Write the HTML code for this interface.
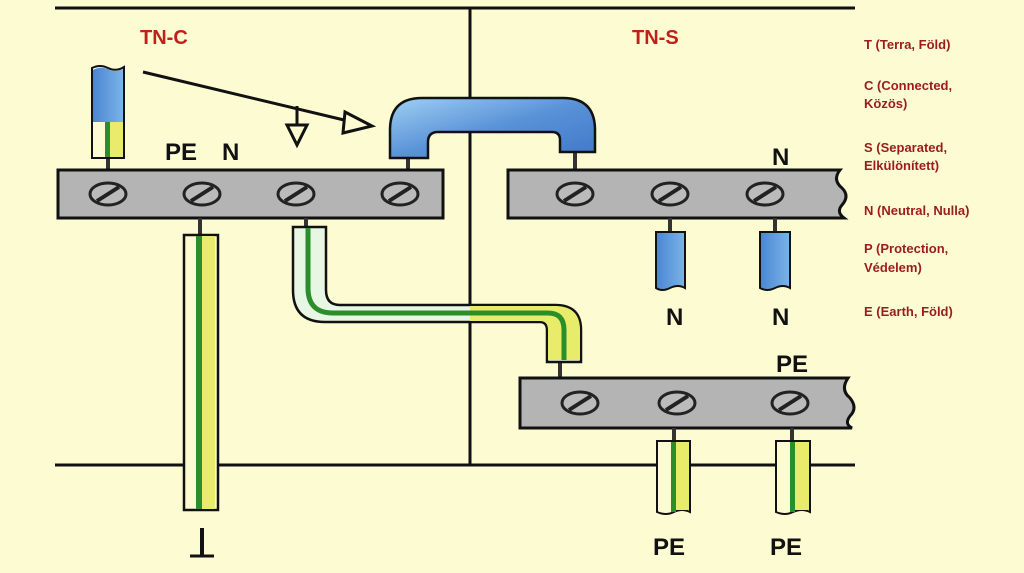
<!DOCTYPE html>
<html><head><style>
body{margin:0;background:#fdfbd2;}
svg{display:block}
.leg{font-family:"Liberation Sans",sans-serif;font-weight:bold;font-size:13px;fill:#9b1c1c}
.lab{font-family:"Liberation Sans",sans-serif;font-size:24px;font-weight:bold;fill:#111}
</style></head><body>
<svg width="1024" height="573" viewBox="0 0 1024 573" xmlns="http://www.w3.org/2000/svg">
<defs>
<linearGradient id="bl" x1="0" y1="0" x2="1" y2="0"><stop offset="0" stop-color="#4a86d0"/><stop offset="1" stop-color="#7ab4ea"/></linearGradient>
<linearGradient id="bv" x1="0" y1="0" x2="1" y2="1"><stop offset="0" stop-color="#9fd0f2"/><stop offset="0.5" stop-color="#5a92d8"/><stop offset="1" stop-color="#3f78c8"/></linearGradient>
<g id="scr"><ellipse cx="0" cy="0" rx="18" ry="11" fill="#bbb" stroke="#222" stroke-width="3"/><line x1="-11" y1="7" x2="11" y2="-7" stroke="#222" stroke-width="4"/></g>
</defs>
<rect width="1024" height="573" fill="#fdfbd2"/>
<g stroke="#111" stroke-width="3" fill="none">
<line x1="55" y1="8" x2="855" y2="8"/>
<line x1="470" y1="8" x2="470" y2="465"/>
<line x1="55" y1="465" x2="855" y2="465"/>
</g>
<text x="140" y="44" font-family="Liberation Sans,sans-serif" font-weight="bold" font-size="20" fill="#c0201a">TN-C</text>
<text x="632" y="44" font-family="Liberation Sans,sans-serif" font-weight="bold" font-size="20" fill="#c0201a">TN-S</text>
<!-- PEN wire -->
<line x1="108" y1="158" x2="108" y2="172" stroke="#333" stroke-width="4"/>
<path d="M92 68 Q100 64 108 68 Q116 72 124 67 L124 158 L92 158 Z" fill="#fdfbd2" stroke="#111" stroke-width="2"/>
<path d="M93 70 Q100 66 108 69 Q116 73 123 69 L123 122 L93 122 Z" fill="url(#bl)"/>
<rect x="110" y="122" width="13" height="35" fill="#e8ec6a"/>
<rect x="105" y="122" width="5" height="35" fill="#2a8f2a"/>
<!-- arrow -->
<line x1="143" y1="72" x2="365" y2="125" stroke="#111" stroke-width="3"/>
<path d="M345 112 L372 126 L343 133 Z" fill="#fdfbd2" stroke="#111" stroke-width="3"/>
<line x1="297" y1="106" x2="297" y2="125" stroke="#111" stroke-width="3"/>
<path d="M287 125 L307 125 L297 145 Z" fill="#fdfbd2" stroke="#111" stroke-width="3"/>
<text class="lab" x="165" y="160">PE</text><text class="lab" x="222" y="160">N</text>
<!-- blue bridge -->
<line x1="408" y1="155" x2="408" y2="172" stroke="#333" stroke-width="4"/>
<line x1="575" y1="150" x2="575" y2="172" stroke="#333" stroke-width="4"/>
<path d="M390 158 L390 130 Q390 98 422 98 L563 98 Q595 98 595 130 L595 152 L560 152 L560 140 Q560 132 552 132 L438 132 Q428 132 428 142 L428 158 Z" fill="url(#bv)" stroke="#111" stroke-width="2.5"/>
<!-- left bar -->
<rect x="58" y="170" width="385" height="48" fill="#b4b4b4" stroke="#111" stroke-width="3"/>
<use href="#scr" x="108" y="194"/><use href="#scr" x="202" y="194"/><use href="#scr" x="296" y="194"/><use href="#scr" x="400" y="194"/>
<!-- right bar -->
<path d="M508 170 L840 170 Q832 180 842 188 Q850 196 842 205 Q836 212 844 218 L508 218 Z" fill="#b4b4b4" stroke="#111" stroke-width="3"/>
<use href="#scr" x="575" y="194"/><use href="#scr" x="670" y="194"/><use href="#scr" x="765" y="194"/>
<text class="lab" x="772" y="165">N</text>
<!-- N wires -->
<line x1="670" y1="218" x2="670" y2="232" stroke="#333" stroke-width="4"/>
<line x1="775" y1="218" x2="775" y2="232" stroke="#333" stroke-width="4"/>
<path d="M656 232 L685 232 L685 288 Q678 284 670 288 Q662 292 656 288 Z" fill="url(#bl)" stroke="#111" stroke-width="2"/>
<path d="M760 232 L790 232 L790 288 Q783 284 775 288 Q767 292 760 288 Z" fill="url(#bl)" stroke="#111" stroke-width="2"/>
<text class="lab" x="666" y="325">N</text><text class="lab" x="772" y="325">N</text>
<!-- ground wire -->
<line x1="200" y1="218" x2="200" y2="236" stroke="#333" stroke-width="4"/>
<rect x="184" y="235" width="34" height="275" fill="#fdfbd2" stroke="#111" stroke-width="2.5"/>
<rect x="200" y="236" width="15" height="273" fill="#e8ec6a"/>
<rect x="196" y="236" width="6" height="273" fill="#2a8f2a"/>
<line x1="202" y1="528" x2="202" y2="556" stroke="#111" stroke-width="4"/>
<line x1="190" y1="556" x2="214" y2="556" stroke="#111" stroke-width="3"/>
<!-- green-yellow cable -->
<line x1="306" y1="218" x2="306" y2="228" stroke="#333" stroke-width="4"/>
<line x1="560" y1="360" x2="560" y2="380" stroke="#333" stroke-width="4"/>
<path d="M293 227 L293 290 Q293 322 325 322 L540 322 Q547 322 547 330 L547 362 L581 362 L581 330 Q581 305 555 305 L340 305 Q326 305 326 290 L326 227 Z" fill="#e8f6e4" stroke="#111" stroke-width="2.5"/>
<path d="M470 306 L555 306 Q580 306 580 330 L580 360 L548 360 L548 330 Q548 321 540 321 L470 321 Z" fill="#e8ec6a"/>
<path d="M308 228 L308 288 Q308 313 333 313 L548 313 Q564 313 564 330 L564 360" fill="none" stroke="#2a8f2a" stroke-width="5"/>
<!-- PE bar -->
<path d="M520 378 L848 378 Q840 390 850 398 Q858 408 850 416 Q844 424 852 428 L520 428 Z" fill="#b4b4b4" stroke="#111" stroke-width="3"/>
<use href="#scr" x="580" y="403"/><use href="#scr" x="677" y="403"/><use href="#scr" x="790" y="403"/>
<text class="lab" x="776" y="372">PE</text>
<!-- PE wires -->
<line x1="674" y1="428" x2="674" y2="442" stroke="#333" stroke-width="4"/>
<line x1="792" y1="428" x2="792" y2="442" stroke="#333" stroke-width="4"/>
<g>
<path d="M657 441 L690 441 L690 512 Q682 508 674 512 Q666 516 657 512 Z" fill="#fdfbd2" stroke="#111" stroke-width="2"/>
<rect x="676" y="442" width="13" height="68" fill="#e8ec6a"/><rect x="671" y="442" width="5" height="70" fill="#2a8f2a"/>
<path d="M776 441 L810 441 L810 512 Q802 508 793 512 Q785 516 776 512 Z" fill="#fdfbd2" stroke="#111" stroke-width="2"/>
<rect x="795" y="442" width="14" height="68" fill="#e8ec6a"/><rect x="790" y="442" width="5" height="70" fill="#2a8f2a"/>
</g>
<text class="lab" x="653" y="555">PE</text><text class="lab" x="770" y="555">PE</text>
<!-- legend -->
<text class="leg" x="864" y="49">T  (Terra, Föld)</text>
<text class="leg" x="864" y="90">C  (Connected,</text>
<text class="leg" x="864" y="108">Közös)</text>
<text class="leg" x="864" y="152">S  (Separated,</text>
<text class="leg" x="864" y="170">Elkülönített)</text>
<text class="leg" x="864" y="215">N  (Neutral, Nulla)</text>
<text class="leg" x="864" y="253">P  (Protection,</text>
<text class="leg" x="864" y="272">Védelem)</text>
<text class="leg" x="864" y="316">E  (Earth, Föld)</text>
</svg>
</body></html>
